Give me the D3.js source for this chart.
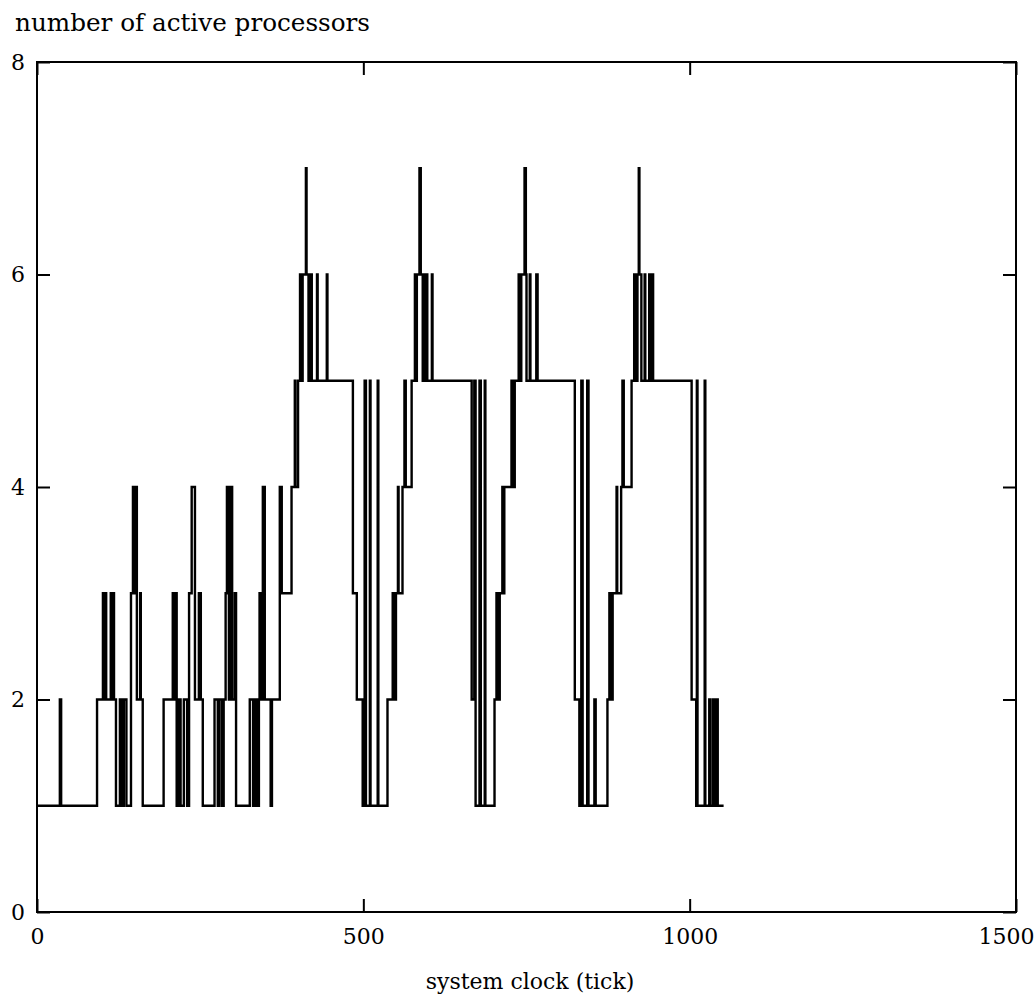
<!DOCTYPE html>
<html><head><meta charset="utf-8">
<script src="https://cdn.jsdelivr.net/npm/d3@7"></script>
<style>body{margin:0;background:#fff}svg{display:block}</style>
</head><body>
<svg id="chart" width="1036" height="1001"></svg>
<script>
// ---- data ----
const xTickValues = [0, 500, 1000, 1500];
const yTickValues = [0, 2, 4, 6, 8];
const xLabel = "system clock (tick)";
const yLabel = "number of active processors";
// step changes: clock tick at which the count changes, and the new count
const clockTicks = [
  0, 35, 37, 92, 101, 103, 105, 106, 113, 115, 116, 118, 121, 127, 130, 133, 137,
  144, 147, 149, 150, 153, 158, 159, 162,
  194, 208, 210, 212, 214, 217, 220, 225, 230, 233, 237, 242, 248, 251, 254,
  272, 277, 279, 283, 286, 289, 291, 294, 297, 299, 303, 305,
  326, 331, 334, 337, 340, 341, 343, 346, 349, 358, 360, 372, 375,
  390, 395, 396, 400, 403, 406, 407, 412, 413, 416, 418, 421, 429, 430, 444, 445,
  484, 490, 499, 502, 504, 510, 511, 522, 523,
  537, 545, 548, 550, 553, 554, 560, 563, 565, 574, 579, 580, 582, 586, 588, 591,
  594, 595, 597, 598, 605, 606,
  666, 670, 672, 678, 680, 686, 687,
  701, 704, 706, 709, 713, 715, 716, 727, 729, 732, 738, 741, 742, 747, 749, 750,
  755, 756, 765, 767,
  824, 831, 834, 836, 843, 845, 854, 856,
  874, 877, 879, 882, 888, 889, 895, 897, 899, 911, 915, 918, 920, 922, 923, 926,
  931, 932, 938, 940, 943, 944,
  1003, 1010, 1011, 1012, 1023, 1024, 1030, 1032, 1036, 1038, 1041, 1043, 1052
];
const activeProcessors = [
  1, 2, 1, 2, 3, 2, 3, 2, 3, 2, 3, 2, 1, 2, 1, 2, 1,
  3, 4, 3, 4, 2, 3, 2, 1,
  2, 3, 2, 3, 1, 2, 1, 2, 1, 3, 4, 2, 3, 2, 1,
  2, 1, 2, 1, 2, 3, 4, 2, 4, 2, 3, 1,
  2, 1, 2, 1, 2, 3, 2, 4, 2, 1, 2, 4, 3,
  4, 5, 4, 5, 6, 5, 6, 7, 6, 5, 6, 5, 6, 5, 6, 5,
  3, 2, 1, 5, 1, 5, 1, 5, 1,
  2, 3, 2, 3, 4, 3, 4, 5, 4, 5, 6, 5, 6, 7, 6, 5,
  6, 5, 6, 5, 6, 5,
  2, 5, 1, 5, 1, 5, 1,
  2, 3, 2, 3, 4, 3, 4, 5, 4, 5, 6, 5, 6, 7, 6, 5,
  6, 5, 6, 5,
  2, 1, 5, 1, 5, 1, 2, 1,
  2, 3, 2, 3, 4, 3, 4, 5, 4, 5, 6, 5, 6, 7, 6, 5,
  6, 5, 6, 5, 6, 5,
  2, 1, 5, 1, 5, 1, 2, 1, 2, 1, 2, 1, 1
];

// ---- layout ----
const svg = d3.select("#chart");
const margin = {left: 37, right: 20, top: 62, bottom: 89};
const W = 1036, H = 1001;
const innerW = W - margin.left - margin.right;
const innerH = H - margin.top - margin.bottom;
const font = "'DejaVu Serif', 'Liberation Serif', serif";

const x = d3.scaleLinear().domain([0, 1500]).range([0, innerW]);
const y = d3.scaleLinear().domain([0, 8]).range([innerH, 0]);

const g = svg.append("g").attr("transform", `translate(${margin.left},${margin.top})`);

const points = clockTicks.map((t, i) => [t, activeProcessors[i]]);
const line = d3.line().x(d => x(d[0])).y(d => y(d[1])).curve(d3.curveStepAfter);

g.append("path").datum(points)
  .attr("d", line)
  .attr("fill", "none")
  .attr("stroke", "#000")
  .attr("stroke-width", 2.4)
  .attr("stroke-linejoin", "miter");

// axes
const tickLen = 13;
const styleAxis = sel => {
  sel.select(".domain").remove();
  sel.selectAll(".tick line").attr("stroke", "#000").attr("stroke-width", 2);
  sel.selectAll(".tick text").attr("fill", "#000").style("font-family", font).style("font-size", "22px");
};

const bottom = g.append("g").attr("transform", `translate(0,${innerH})`)
  .call(d3.axisBottom(x).tickValues(xTickValues).tickFormat(d3.format("d")).tickSizeInner(-tickLen).tickSizeOuter(0).tickPadding(16))
  .call(styleAxis);
bottom.selectAll(".tick text").filter(d => d === 1500).attr("dx", -10);

g.append("g")
  .call(d3.axisTop(x).tickValues(xTickValues).tickFormat("").tickSizeInner(-tickLen).tickSizeOuter(0))
  .call(styleAxis);

g.append("g")
  .call(d3.axisLeft(y).tickValues(yTickValues).tickFormat(d3.format("d")).tickSizeInner(-tickLen).tickSizeOuter(0).tickPadding(12))
  .call(styleAxis);

g.append("g").attr("transform", `translate(${innerW},0)`)
  .call(d3.axisRight(y).tickValues(yTickValues).tickFormat("").tickSizeInner(-tickLen).tickSizeOuter(0))
  .call(styleAxis);

// frame
g.append("rect").attr("x", 0).attr("y", 0).attr("width", innerW).attr("height", innerH)
  .attr("fill", "none").attr("stroke", "#000").attr("stroke-width", 2);

// titles
svg.append("text").attr("x", 15).attr("y", 31)
  .style("font-family", font).style("font-size", "24px").attr("fill", "#000")
  .attr("textLength", 355).attr("lengthAdjust", "spacingAndGlyphs")
  .text(yLabel);

svg.append("text").attr("x", 530).attr("y", 989)
  .attr("text-anchor", "middle")
  .style("font-family", font).style("font-size", "22px").attr("fill", "#000")
  .text(xLabel);
</script>
</body></html>
